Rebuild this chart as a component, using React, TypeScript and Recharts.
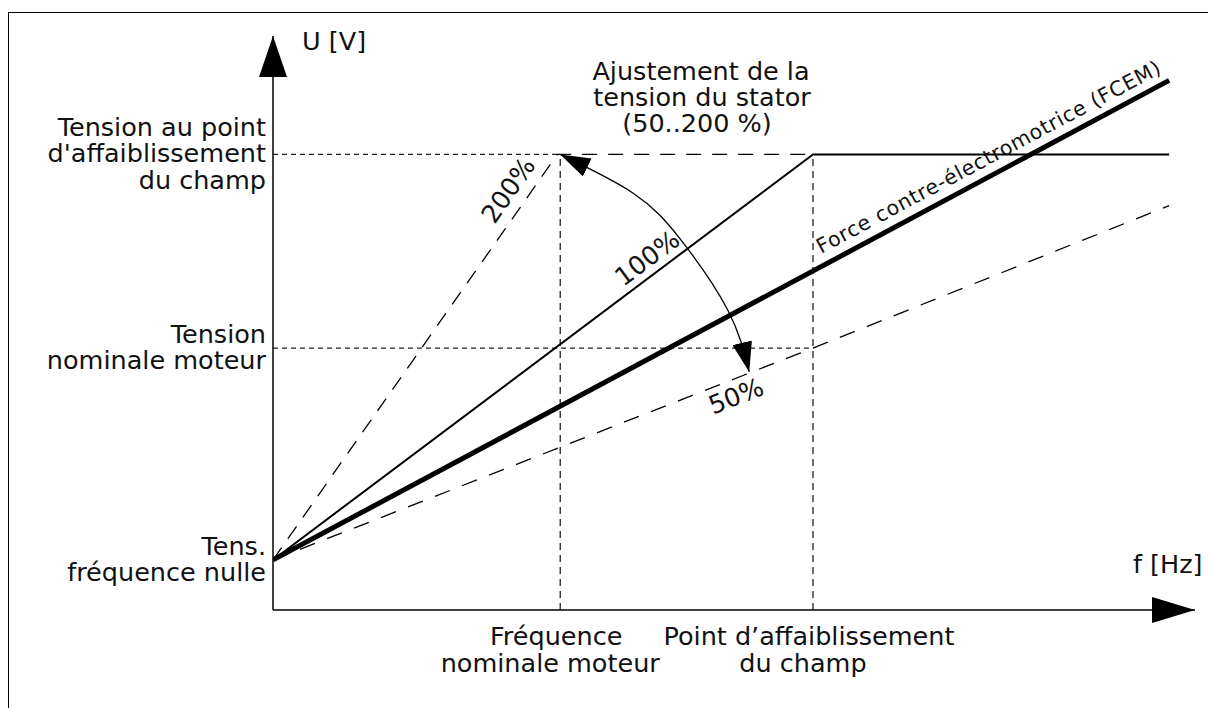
import { LineChart, Line, XAxis, YAxis, ReferenceLine } from "recharts";

// frequency axis (Hz-like units) and voltage axis (V-like units)
const FREQ_TICKS = [50, 94];
const FREQ_TICK_LABELS = [
  ["Fréquence", "nominale moteur"],
  ["Point d’affaiblissement", "du champ"],
];
const VOLT_TICKS = [44, 230, 400];
const VOLT_TICK_LABELS = [
  ["Tens.", "fréquence nulle"],
  ["Tension", "nominale moteur"],
  ["Tension au point", "d'affaiblissement", "du champ"],
];

const NOMINAL_F = 50;
const WEAKENING_F = 94;
const NOMINAL_U = 230;
const WEAKENING_U = 400;

// 100 % U/f curve
const F_100 = [0, 94, 156];
const U_100 = [44, 400, 400];
// 200 % curve
const F_200 = [0, 49.5, 94];
const U_200 = [44, 400, 400];
// 50 % curve
const F_50 = [0, 94, 156];
const U_50 = [44, 230, 355];
// back-EMF
const F_FCEM = [0, 156];
const U_FCEM = [44, 465];
// adjustment arc
const F_ARC = [50, 62.7, 71, 79.2, 82.9];
const U_ARC = [400, 366, 325, 263, 209];

const toRows = (f: number[], u: number[]) => f.map((v, i) => ({ f: v, u: u[i] }));

const FONT = "'DejaVu Sans', Verdana, sans-serif";
const INK = "#111";

function VoltTick(props: any) {
  const { x, y, payload } = props;
  const lines = VOLT_TICK_LABELS[VOLT_TICKS.indexOf(payload.value)] ?? [];
  const first = y + 8 - (lines.length - 1) * 13.25;
  return (
    <text x={x} y={first} textAnchor="end" fontFamily={FONT} fontSize={25.5} fill={INK}>
      {lines.map((l, i) => (
        <tspan key={i} x={x} dy={i === 0 ? 0 : 26.5}>
          {l}
        </tspan>
      ))}
    </text>
  );
}

function FreqTick(props: any) {
  const { x, y, payload } = props;
  const lines = FREQ_TICK_LABELS[FREQ_TICKS.indexOf(payload.value)] ?? [];
  return (
    <text x={x} y={y + 35} textAnchor="middle" fontFamily={FONT} fontSize={25.5} fill={INK}>
      {lines.map((l, i) => (
        <tspan key={i} x={x - (i === 0 ? 4 : 10)} dy={i === 0 ? 0 : 27}>
          {l}
        </tspan>
      ))}
    </text>
  );
}

function Markers() {
  return (
    <svg width={0} height={0} style={{ position: "absolute" }}>
      <defs>
        <marker id="axArrowX" markerUnits="userSpaceOnUse" markerWidth={43} markerHeight={26} refX={43} refY={13} orient="auto">
          <path d="M0,0 L43,13 L0,26 Z" fill="#000" />
        </marker>
        <marker id="axArrowY" markerUnits="userSpaceOnUse" markerWidth={41} markerHeight={28} refX={41} refY={14} orient="auto-start-reverse">
          <path d="M0,0 L41,14 L0,28 Z" fill="#000" />
        </marker>
        <marker id="arcArrow" markerUnits="userSpaceOnUse" markerWidth={30} markerHeight={20} refX={30} refY={10} orient="auto-start-reverse">
          <path d="M0,0 L30,10 L0,20 Z" fill="#000" />
        </marker>
      </defs>
    </svg>
  );
}

function Annotations() {
  const t = { fontFamily: FONT, fontSize: 25.5, fill: INK };
  return (
    <svg width={1208} height={708} style={{ position: "absolute", left: 0, top: 0, pointerEvents: "none" }}>
      <text x={302} y={50} {...t}>U [V]</text>
      <text x={1133} y={573} {...t}>f [Hz]</text>
      <text x={701} y={80} textAnchor="middle" {...t}>
        <tspan x={701}>Ajustement de la</tspan>
        <tspan x={702} dy={26}>tension du stator</tspan>
        <tspan x={697} dy={26}>(50..200 %)</tspan>
      </text>
      <text x={508} y={190} textAnchor="middle" dominantBaseline="central" transform="rotate(-55 508 190)" {...t}>200%</text>
      <text x={647} y={258} textAnchor="middle" dominantBaseline="central" transform="rotate(-37 647 258)" {...t}>100%</text>
      <text x={736} y={396} textAnchor="middle" dominantBaseline="central" transform="rotate(-21.5 736 396)" {...t}>50%</text>
      <text x={821} y={254} fontFamily={FONT} fontSize={20.5} letterSpacing={0.7} fill={INK} transform="rotate(-28 821 254)">
        Force contre-électromotrice (FCEM)
      </text>
    </svg>
  );
}

export default function App() {
  return (
    <div style={{ position: "fixed", left: 0, top: 0, width: 1208, height: 708, overflow: "hidden", background: "#fff" }}>
      <div style={{ position: "absolute", left: 8, top: 12, width: 1400, height: 900, border: "1.3px solid #000" }} />
      <Markers />
      <div style={{ position: "absolute", left: 0, top: 0 }}>
        <LineChart width={1208} height={708} margin={{ top: 36, right: 13, bottom: 0, left: 0 }}>
          <XAxis
            type="number"
            dataKey="f"
            domain={[0, 160.5]}
            ticks={FREQ_TICKS}
            interval={0}
            height={98}
            tickLine={false}
            tickSize={0}
            tickMargin={0}
            tick={<FreqTick />}
            axisLine={{ stroke: "#000", strokeWidth: 1.5, markerEnd: "url(#axArrowX)" }}
            allowDataOverflow
          />
          <YAxis
            type="number"
            dataKey="u"
            domain={[0, 504]}
            ticks={VOLT_TICKS}
            interval={0}
            width={273}
            tickLine={false}
            tickSize={0}
            tickMargin={7}
            tick={<VoltTick />}
            axisLine={{ stroke: "#000", strokeWidth: 1.5, markerStart: "url(#axArrowY)" }}
            allowDataOverflow
          />
          <ReferenceLine segment={[{ x: 0, y: WEAKENING_U }, { x: 49.5, y: WEAKENING_U }]} stroke="#222" strokeWidth={1.3} strokeDasharray="5 4" />
          <ReferenceLine segment={[{ x: 0, y: NOMINAL_U }, { x: WEAKENING_F, y: NOMINAL_U }]} stroke="#222" strokeWidth={1.3} strokeDasharray="5 4" />
          <ReferenceLine segment={[{ x: NOMINAL_F, y: 0 }, { x: NOMINAL_F, y: WEAKENING_U }]} stroke="#222" strokeWidth={1.3} strokeDasharray="7 5" />
          <ReferenceLine segment={[{ x: WEAKENING_F, y: 0 }, { x: WEAKENING_F, y: WEAKENING_U }]} stroke="#222" strokeWidth={1.3} strokeDasharray="7 5" />
          <Line data={toRows(F_200, U_200)} dataKey="u" type="linear" stroke="#000" strokeWidth={1.3} strokeDasharray="15 11" dot={false} activeDot={false} isAnimationActive={false} />
          <Line data={toRows(F_50, U_50)} dataKey="u" type="linear" stroke="#000" strokeWidth={1.3} strokeDasharray="16 13" dot={false} activeDot={false} isAnimationActive={false} />
          <Line data={toRows(F_100, U_100)} dataKey="u" type="linear" stroke="#000" strokeWidth={2} dot={false} activeDot={false} isAnimationActive={false} />
          <Line data={toRows(F_FCEM, U_FCEM)} dataKey="u" type="linear" stroke="#000" strokeWidth={5} dot={false} activeDot={false} isAnimationActive={false} />
          <Line
            data={toRows(F_ARC, U_ARC)}
            dataKey="u"
            type="natural"
            stroke="#000"
            strokeWidth={1.3}
            markerStart="url(#arcArrow)"
            markerEnd="url(#arcArrow)"
            dot={false}
            activeDot={false}
            isAnimationActive={false}
          />
        </LineChart>
      </div>
      <Annotations />
    </div>
  );
}
